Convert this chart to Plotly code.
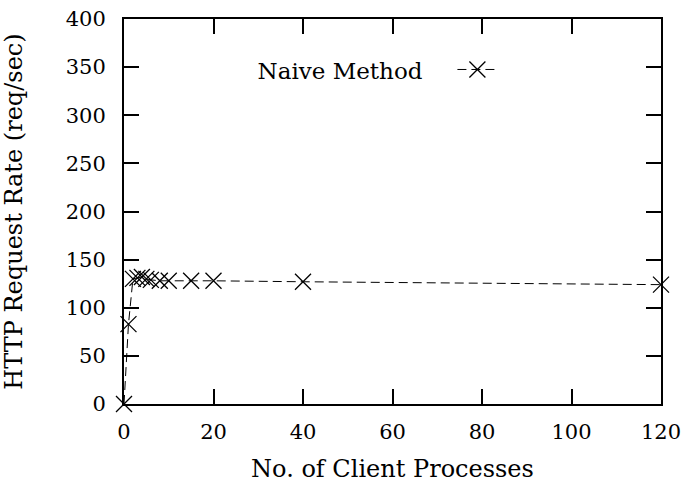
import plotly.graph_objects as go

clients = [0, 1, 2, 3, 4, 5, 6, 8, 10, 15, 20, 40, 120]
req_rate = [0, 83, 130, 131, 132, 130, 129, 128, 128, 128, 128, 127, 124]
series_name = "Naive Method"
x_ticks = [0, 20, 40, 60, 80, 100, 120]
y_ticks = [0, 50, 100, 150, 200, 250, 300, 350, 400]

FONT = "DejaVu Serif"

fig = go.Figure()
fig.add_trace(go.Scatter(
    x=clients, y=req_rate, mode="lines+markers", name="",
    line=dict(color="black", width=1, dash="9px,5px"),
    marker=dict(symbol="x-thin", size=16, line=dict(color="black", width=1.3)),
    cliponaxis=False,
))

axis_common = dict(
    showline=True, linecolor="black", linewidth=2, mirror="ticks",
    ticks="inside", ticklen=15, tickwidth=2, tickcolor="black",
    showgrid=False, zeroline=False, automargin=False,
    tickfont=dict(family=FONT, size=21, color="black"),
)

fig.update_layout(
    width=684, height=483,
    margin=dict(l=124, r=23, t=19, b=79),
    paper_bgcolor="white", plot_bgcolor="white",
    font=dict(family=FONT, size=21, color="black"),
    showlegend=True,
    legend=dict(
        x=0.245, y=0.868, xanchor="left", yanchor="middle",
        bgcolor="rgba(0,0,0,0)",
        title=dict(text=series_name + "   ", side="left", font=dict(family=FONT, size=23)),
        font=dict(family=FONT, size=21),
        itemwidth=40,
    ),
    xaxis=dict(
        range=[0, 120], tickvals=x_ticks, ticktext=[str(v) for v in x_ticks],
        title=dict(text="No. of Client Processes", font=dict(family=FONT, size=24), standoff=18),
        ticklabelstandoff=8,
        **axis_common,
    ),
    yaxis=dict(
        range=[0, 400], tickvals=y_ticks, ticktext=[str(v) for v in y_ticks],
        title=dict(text="HTTP Request Rate (req/sec)", font=dict(family=FONT, size=24), standoff=36),
        ticklabelstandoff=12,
        **axis_common,
    ),
)

fig.write_html("out.html", config={"displayModeBar": False},
               post_script="document.body.style.margin='0';")
